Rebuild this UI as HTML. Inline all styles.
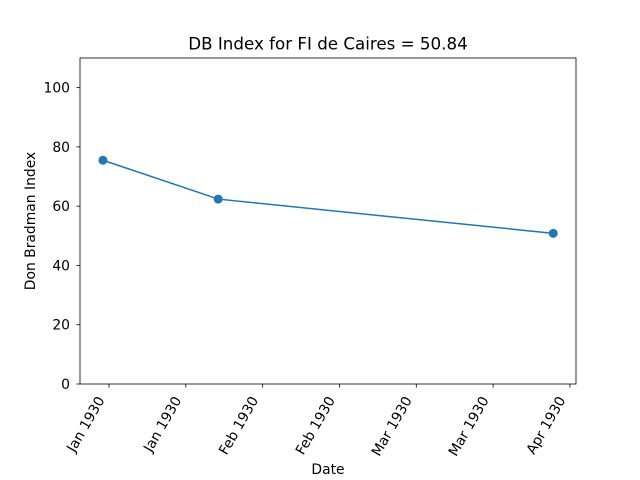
<!DOCTYPE html>
<html><head><meta charset="utf-8"><style>
html,body{margin:0;padding:0;background:#fff;}
svg{display:block;font-family:"DejaVu Sans","Liberation Sans",sans-serif;}
</style></head><body>
<svg id="chart" width="640" height="480" viewBox="0 0 640 480" xmlns="http://www.w3.org/2000/svg">
<rect x="0" y="0" width="640" height="480" fill="#fff"/>
<text x="328" y="49.5" font-size="16.7" text-anchor="middle">DB Index for FI de Caires = 50.84</text>
<g id="plot"></g>
<rect x="80" y="58" width="496" height="326" fill="none" stroke="#000" stroke-width="0.8"/>
<text x="328" y="474" font-size="13.9" text-anchor="middle">Date</text>
<text x="0" y="0" font-size="13.9" text-anchor="middle" transform="translate(35,221) rotate(-90)">Don Bradman Index</text>
</svg>
<script>
// data: day offsets from 1 Jan 1930
const pointDays = [-1.2, 21.6, 87.9];
const pointValues = [75.5, 62.4, 50.84];
const yTicks = [0, 20, 40, 60, 80, 100];
const xTickDays = [0, 15.2, 30.4, 45.6, 60.8, 76.0, 91.2];
const xTickLabels = ["Jan 1930","Jan 1930","Feb 1930","Feb 1930","Mar 1930","Mar 1930","Apr 1930"];

const L=80,R=576,T=58,B=384;
const xMin=-5.74,xMax=92.4,yMin=0,yMax=110;
const xs=d=>L+(d-xMin)/(xMax-xMin)*(R-L);
const ys=v=>B-(v-yMin)/(yMax-yMin)*(B-T);
const NS="http://www.w3.org/2000/svg";
const g=document.getElementById('plot');
function mk(tag,attrs){const e=document.createElementNS(NS,tag);for(const k in attrs)e.setAttribute(k,attrs[k]);g.appendChild(e);return e;}

yTicks.forEach(v=>{
  const y=ys(v);
  const t=mk('line',{x1:L-3.5,x2:L,y1:y,y2:y,stroke:'#000','stroke-width':0.8});
  
  
  const l=mk('text',{x:L-10,y:y+5,'font-size':13.9,'text-anchor':'end'});
  l.textContent=v;
  
  
});
xTickDays.forEach((d,i)=>{
  const x=xs(d);
  const t=mk('line',{x1:x,x2:x,y1:B,y2:B+3.5,stroke:'#000','stroke-width':0.8});
  
  
  const l=mk('text',{x:0,y:0,'font-size':13.9,'text-anchor':'end',transform:`translate(${x-4},${B+16}) rotate(-60)`});
  l.textContent=xTickLabels[i];
  
  
});
const pts=pointDays.map((d,i)=>xs(d)+','+ys(pointValues[i])).join(' ');
const line=mk('polyline',{points:pts,fill:'none',stroke:'#1f77b4','stroke-width':1.5});


pointDays.forEach((d,i)=>{
  const c=mk('circle',{cx:xs(d),cy:ys(pointValues[i]),r:4.5,fill:'#1f77b4'});
  
  
});
</script>
</body></html>
